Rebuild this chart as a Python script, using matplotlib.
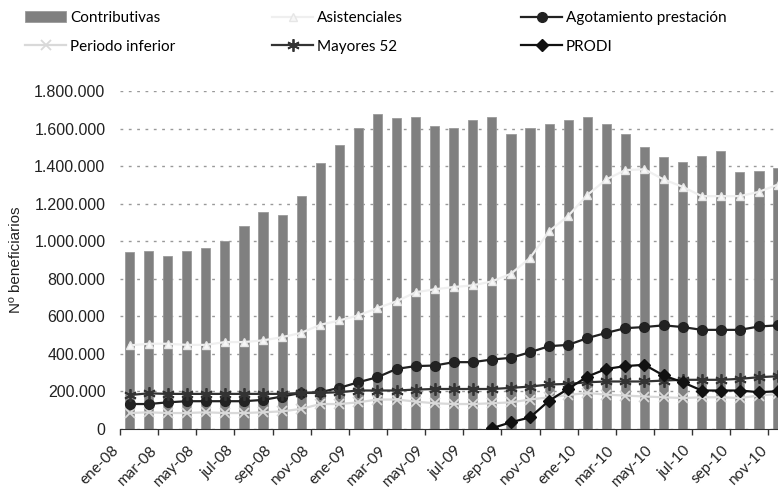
import matplotlib.pyplot as plt
from matplotlib.ticker import FuncFormatter, MultipleLocator
from matplotlib.transforms import ScaledTranslation
import numpy as np

months = ['ene', 'feb', 'mar', 'abr', 'may', 'jun', 'jul', 'ago', 'sep', 'oct', 'nov', 'dic']
periods = [f'{m}-{y}' for y in ['08', '09', '10'] for m in months][:35]

contributivas = [940, 947, 922, 947, 963, 1002, 1082, 1153, 1137, 1240, 1416, 1511,
                 1605, 1678, 1655, 1662, 1614, 1601, 1646, 1660, 1569, 1601, 1623, 1646,
                 1660, 1623, 1569, 1500, 1447, 1423, 1454, 1480, 1370, 1375, 1391]
asistenciales = [445, 454, 454, 448, 448, 463, 463, 472, 489, 512, 555, 578,
                 605, 644, 680, 728, 744, 756, 765, 786, 827, 911, 1053, 1135,
                 1246, 1329, 1379, 1383, 1329, 1290, 1240, 1240, 1240, 1263, 1302]
agotamiento = [133, 133, 142, 148, 148, 148, 148, 155, 173, 192, 196, 219,
               249, 276, 320, 335, 338, 356, 356, 370, 379, 409, 441, 448,
               484, 512, 537, 543, 552, 543, 528, 528, 528, 546, 552]
periodo_inferior = [85, 89, 85, 85, 89, 85, 85, 89, 94, 107, 133, 133,
                    142, 157, 157, 146, 137, 133, 133, 137, 142, 157, 169, 181,
                    192, 183, 178, 173, 169, 165, 169, 169, 165, 178, 187]
mayores_52 = [181, 190, 187, 187, 187, 187, 187, 187, 187, 192, 192, 196,
              205, 205, 205, 210, 213, 213, 213, 213, 219, 226, 237, 240,
              249, 253, 253, 253, 258, 262, 262, 262, 267, 276, 281]
prodi = [None] * 19 + [4, 36, 62, 151, 214, 279, 320, 335, 342, 285, 249, 205,
                       205, 205, 196, 201]

to_n = lambda v: np.array([np.nan if x is None else x * 1000 for x in v], dtype=float)

x = np.arange(len(periods))

fig = plt.figure(figsize=(7.78, 4.92), dpi=100)
ax = fig.add_axes([120 / 778, 1 - 429 / 492, 1 - 120 / 778, (429 - 91) / 492])

ax.yaxis.grid(True, color='#999999', linestyle=(0, (2, 4)), linewidth=1)
ax.set_axisbelow(True)

bars = ax.bar(x, to_n(contributivas), width=0.48, color='#808080', edgecolor='#9a9a9a',
              linewidth=0.6, label='Contributivas', zorder=2)
l_asis, = ax.plot(x, to_n(asistenciales), color='#efefef', lw=1.6, marker='^', ms=6,
                  mfc='#f7f7f7', mec='#e6e6e6', label='Asistenciales', zorder=3)
l_agot, = ax.plot(x, to_n(agotamiento), color='#222222', lw=1.6, marker='o', ms=7,
                  mfc='#222222', mec='#222222', label='Agotamiento prestación', zorder=4)
l_per, = ax.plot(x, to_n(periodo_inferior), color='#d9d9d9', lw=1.6, marker='x', ms=7,
                 mew=1.3, label='Periodo inferior', zorder=3)
l_may, = ax.plot(x, to_n(mayores_52), color='#333333', lw=1.6, marker=(6, 2, 0), ms=9,
                 mew=1.3, label='Mayores 52', zorder=4)
l_prodi, = ax.plot(x, to_n(prodi), color='#111111', lw=1.6, marker='D', ms=6,
                   label='PRODI', zorder=5)

ax.set_ylim(0, 1800000)
ax.set_xlim(-0.5, -0.5 + (778 - 120) / 19.1)
ax.yaxis.set_major_locator(MultipleLocator(200000))
ax.yaxis.set_major_formatter(FuncFormatter(lambda v, p: f'{int(v):,}'.replace(',', '.')))
ax.tick_params(axis='y', length=0, pad=10.5, labelsize=11.5)
for t in ax.get_yticklabels():
    t.set_fontfamily('Liberation Sans')
    t.set_color('#222222')

ax.set_xticks(np.arange(-0.5, len(periods), 2), minor=True)
ax.tick_params(axis='x', which='major', length=0, pad=10)
ax.tick_params(axis='x', which='minor', length=4, width=1, direction='out', color='#333333')
ax.set_xticks(x[::2])
ax.set_xticklabels(periods[::2], rotation=45, ha='right', va='top', rotation_mode='anchor',
                   fontsize=11, family='Lato', color='#222222')

for s in ['top', 'right', 'left']:
    ax.spines[s].set_visible(False)
ax.spines['bottom'].set_color('#333333')

ax.set_ylabel('Nº beneficiarios', fontsize=11, family='Liberation Sans', color='#222222',
              labelpad=8)

leg_kw = dict(frameon=False, prop={'family': 'Lato', 'size': 11}, handlelength=2.7,
              handletextpad=0.25, labelspacing=0.95, borderaxespad=0, borderpad=0)
top = 1 - 11 / 492
fig.legend([bars, l_per], ['Contributivas', 'Periodo inferior'], loc='upper left',
           bbox_to_anchor=(25 / 778, top), **leg_kw)
fig.legend([l_asis, l_may], ['Asistenciales', 'Mayores 52'], loc='upper left',
           bbox_to_anchor=(272 / 778, top), **leg_kw)
fig.legend([l_agot, l_prodi], ['Agotamiento prestación', 'PRODI'], loc='upper left',
           bbox_to_anchor=(521 / 778, top), **leg_kw)

# nudge the rotated month labels left, like the original layout
shift = ScaledTranslation(-0.18, 0, fig.dpi_scale_trans)
for t in ax.get_xticklabels():
    t.set_transform(t.get_transform() + shift)

plt.savefig('out.png', dpi=100)
